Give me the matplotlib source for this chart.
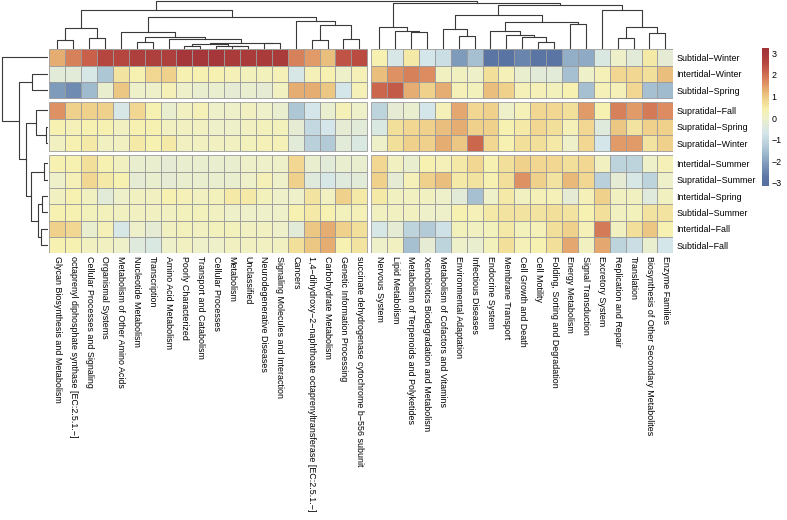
import numpy as np
import matplotlib
matplotlib.use("Agg")
import matplotlib.pyplot as plt
from matplotlib.patches import Rectangle
from matplotlib.colors import LinearSegmentedColormap, Normalize
from matplotlib.cm import ScalarMappable

plt.rcParams['font.family'] = ['Liberation Sans', 'DejaVu Sans']

# --- data (display order, as clustered in the picture) ---
row_labels = ['Subtidal\u2212Winter', 'Intertidal\u2212Winter', 'Subtidal\u2212Spring',
              'Supratidal\u2212Fall', 'Supratidal\u2212Spring', 'Supratidal\u2212Winter',
              'Intertidal\u2212Summer', 'Supratidal\u2212Summer', 'Intertidal\u2212Spring',
              'Subtidal\u2212Summer', 'Intertidal\u2212Fall', 'Subtidal\u2212Fall']

col_labels = ['Glycan Biosynthesis and Metabolism',
              'octaprenyl diphosphate synthase [EC:2.5.1.\u2212]',
              'Cellular Processes and Signaling', 'Organismal Systems',
              'Metabolism of Other Amino Acids', 'Nucleotide Metabolism', 'Transcription',
              'Amino Acid Metabolism', 'Poorly Characterized', 'Transport and Catabolism',
              'Cellular Processes', 'Metabolism', 'Unclassified', 'Neurodegenerative Diseases',
              'Signaling Molecules and Interaction', 'Cancers',
              '1,4\u2212dihydroxy\u22122\u2212naphthoate octaprenyltransferase [EC:2.5.1.\u2212]',
              'Carbohydrate Metabolism', 'Genetic Information Processing',
              'succinate dehydrogenase cytochrome b\u2212556 subunit',
              'Nervous System', 'Lipid Metabolism', 'Metabolism of Terpenoids and Polyketides',
              'Xenobiotics Biodegradation and Metabolism', 'Metabolism of Cofactors and Vitamins',
              'Environmental Adaptation', 'Infectious Diseases', 'Endocrine System',
              'Membrane Transport', 'Cell Growth and Death', 'Cell Motility',
              'Folding, Sorting and Degradation', 'Energy Metabolism', 'Signal Transduction',
              'Excretory System', 'Replication and Repair', 'Translation',
              'Biosynthesis of Other Secondary Metabolites', 'Enzyme Families']

# scaled abundance (z-score), one list per row
values = np.array([
    [1.3, 1.8, 2.2, 2.6, 2.6, 2.8, 2.8, 2.8, 3.0, 3.0, 3.0, 2.9, 2.9, 2.9, 2.9, 1.8, 1.5, 1.1, 2.4, 2.5,
     0.4, -0.6, 0.5, -0.7, -0.9, -2.1, -1.5, -2.8, -2.9, -2.5, -2.8, -2.8, -1.8, -1.9, -0.5, 0.0, -0.3, 0.5, -0.2],
    [-0.3, -0.3, -0.6, -1.4, 0.6, 0.4, 0.8, 0.9, 0.4, 0.4, 0.4, 0.3, 0.2, 0.2, 0.3, -0.6, 0.3, 0.4, 0.0, 0.3,
     1.1, 1.6, 1.8, 1.7, 0.1, 0.1, 0.0, 0.7, 0.3, -0.1, -0.3, -0.3, -1.5, 0.0, 0.3, 0.8, 0.8, 0.7, 1.1],
    [-2.1, -2.4, -1.6, -0.1, 1.0, 0.0, 0.0, 0.3, 0.0, -0.1, -0.1, -0.2, -0.1, -0.2, 0.1, 1.3, 1.3, 1.0, -0.7, 0.3,
     2.1, 2.3, 1.3, 0.9, 1.3, 0.3, 0.2, 1.1, 0.9, 0.3, 0.3, 0.2, 0.4, -1.5, 0.3, 0.3, 0.8, -1.5, -1.6],
    [1.6, 0.9, 0.9, 0.9, -0.6, 0.8, 0.4, -0.1, 0.1, 0.3, 0.0, 0.0, 0.1, 0.0, -0.1, -1.4, -0.7, -0.1, 0.3, 0.0,
     -1.1, -0.2, -0.1, -0.7, 0.3, 1.4, 0.8, 0.9, 0.0, 0.3, 0.8, 0.8, 0.7, 1.5, 0.4, 1.8, 1.5, 1.9, 1.7],
    [0.4, 0.3, 0.4, 0.4, 0.1, 0.4, 0.4, 0.1, 0.1, 0.1, 0.0, 0.0, 0.1, 0.2, 0.2, -0.2, -1.0, -0.7, -0.2, -0.3,
     -0.5, 0.7, 0.8, 0.9, 1.1, 1.3, 0.9, 0.9, 0.4, 0.5, 0.8, 0.7, 0.3, 0.8, -0.4, 1.0, 0.6, 0.9, 0.9],
    [0.1, 0.4, 0.5, 0.1, 0.1, 0.5, 0.4, 0.5, 0.1, 0.1, 0.1, 0.1, 0.2, 0.3, 0.3, -0.3, -1.2, -1.3, -0.3, -0.5,
     0.0, 0.7, 0.9, 0.9, 1.3, 1.0, 2.1, 0.8, 0.4, 0.7, 0.7, 0.5, 0.0, 0.8, -0.7, 1.5, 1.5, 0.6, 0.9],
    [0.4, 0.4, 0.7, 0.4, 0.1, -0.1, -0.1, -0.2, -0.1, -0.1, -0.1, -0.1, 0.0, 0.0, 0.0, 0.8, -0.1, -0.3, -0.1, -0.1,
     0.8, 0.1, -0.1, 0.4, 0.3, 0.5, 0.8, 0.4, 0.7, 0.9, 0.8, 0.8, 0.7, 0.8, 0.1, -1.1, -1.1, 0.0, 0.3],
    [0.0, 0.3, 0.8, 0.5, 0.4, -0.2, -0.1, -0.2, -0.1, -0.1, -0.1, -0.1, 0.0, 0.3, 0.0, 0.9, -0.4, -0.6, -0.4, -0.3,
     0.9, -0.2, 0.3, 0.9, 1.1, 0.5, 0.6, 0.4, 0.7, 1.6, 0.9, 0.6, 1.2, 0.8, -1.2, -0.2, -0.6, -1.1, 0.0],
    [0.1, 0.4, 0.1, -0.3, 0.0, 0.1, 0.1, 0.4, 0.3, 0.1, 0.2, 0.5, 0.5, 0.2, 0.0, 0.0, 0.6, 0.1, 0.9, 0.5,
     0.5, 0.1, 0.1, 0.1, 0.0, -0.3, -1.5, 0.0, 0.5, 0.1, 0.3, 0.3, -0.2, 0.3, 0.9, 0.1, 0.1, -0.4, 0.1],
    [0.4, 0.4, 0.2, 0.2, 0.1, 0.1, 0.1, 0.1, 0.2, 0.2, 0.1, 0.0, 0.0, 0.0, 0.0, 0.4, 0.5, 0.4, 0.2, 0.3,
     0.1, 0.1, 0.1, 0.0, 0.0, 0.4, 0.3, 0.5, 0.6, 0.6, 0.6, 0.7, 0.6, 0.4, 0.7, 0.1, 0.2, 0.6, 0.6],
    [0.9, 0.8, -0.1, 0.3, -0.6, 0.0, -0.2, 0.1, 0.2, 0.1, 0.2, 0.2, 0.1, 0.1, 0.0, -0.3, 1.0, 1.3, 0.9, 0.7,
     -0.6, -0.2, -1.1, -1.3, -0.8, 0.2, 0.1, 0.2, 0.5, 0.2, 0.3, 0.7, 0.9, 0.3, 1.9, 0.1, 0.7, 1.0, 0.4],
    [0.4, 0.4, 0.1, 0.1, 0.0, -0.4, -0.5, 0.0, 0.1, 0.0, 0.0, 0.1, 0.1, 0.1, 0.1, 0.7, 1.0, 1.3, 0.4, 0.6,
     0.0, 0.1, -1.5, -0.2, -1.1, 0.0, -0.1, 0.2, 0.7, 0.3, 0.4, 0.7, 1.4, 0.1, 1.4, -1.1, -0.9, -0.1, -0.7],
])

# dendrograms as (left, right, height); leaves are display indices
col_tree = (
    (((0, 1, 9.3), (2, 3, 11.3), 20.7),
     ((4, ((5, 6, 6.7),
           (7, (((8, 9, 2.7), (10, (11, 12, 2.7), 3.3), 4.7), (13, 14, 5.7), 6.3), 10.0),
           11.7), 16.7),
      (15, ((16, 17, 8.7), (18, 19, 10.0), 24.0), 28.3), 32.0),
     38.7),
    ((20, (21, (22, 23, 16.7), 17.7), 22.3),
     (((24, (25, 26, 13.3), 19.7),
       ((27, (28, (29, (30, 31, 7.0), 12.0), 14.3), 18.3), (32, 33, 25.3), 27.3), 34.0),
      (34, ((35, 36, 10.7), (37, 38, 16.3), 21.7), 38.7), 43.7),
     45.7),
    48.0)

row_tree = (0, ((1, 2, 14.3),
                ((3, (4, 5, 1.7), 10.7),
                 ((6, 7, 3.3), ((8, 9, 5.0), (10, 11, 5.7), 9.0), 16.0), 20.0),
                26.7), 43.3)

col_split = 20          # cutree gap after this many columns
row_splits = [3, 6]     # gaps after these rows
vmin, vmax = -3.15, 3.25

# --- layout (pixels) ---
W, H = 787, 520
hm_left, hm_top, hm_w, hm_h = 49.3, 49.3, 624.0, 204.0
gap_px = 4.0
n_rows, n_cols = values.shape
cw = (hm_w - gap_px) / n_cols
rh = (hm_h - gap_px * len(row_splits)) / n_rows
gc, gr = gap_px / cw, gap_px / rh

cmap = LinearSegmentedColormap.from_list('heat', [
    (0.0, '#56709F'), ((-2.8 - vmin) / (vmax - vmin), '#5A74A3'),
    ((-2.2 - vmin) / (vmax - vmin), '#7A96B8'), ((-1.8 - vmin) / (vmax - vmin), '#94B0C8'),
    ((-1.3 - vmin) / (vmax - vmin), '#B4CCD8'), ((-0.7 - vmin) / (vmax - vmin), '#D4E6EA'),
    ((-0.3 - vmin) / (vmax - vmin), '#E2EBD8'), ((0.0 - vmin) / (vmax - vmin), '#EEF0C8'),
    ((0.4 - vmin) / (vmax - vmin), '#F6F0B0'), ((0.8 - vmin) / (vmax - vmin), '#F1D892'),
    ((1.2 - vmin) / (vmax - vmin), '#E8B878'), ((1.7 - vmin) / (vmax - vmin), '#DC8B60'),
    ((2.2 - vmin) / (vmax - vmin), '#C8604A'), ((2.6 - vmin) / (vmax - vmin), '#B5463F'),
    ((3.0 - vmin) / (vmax - vmin), '#A5373A'), (1.0, '#A23538')])
norm = Normalize(vmin=vmin, vmax=vmax)


def px_axes(fig, left, top, width, height):
    return fig.add_axes([left / W, 1 - (top + height) / H, width / W, height / H])


col_pos = [i + 0.5 + (gc if i >= col_split else 0) for i in range(n_cols)]
row_pos = [r + 0.5 + gr * sum(r >= s for s in row_splits) for r in range(n_rows)]

fig = plt.figure(figsize=(W / 100, H / 100), dpi=100)

# heatmap
ax = px_axes(fig, hm_left, hm_top, hm_w, hm_h)
for r in range(n_rows):
    for c in range(n_cols):
        ax.add_patch(Rectangle((col_pos[c] - 0.5, row_pos[r] - 0.5), 1, 1,
                               facecolor=cmap(norm(values[r, c])), edgecolor='#9a9a9a', lw=0.6))
ax.set_xlim(0, n_cols + gc)
ax.set_ylim(n_rows + gr * len(row_splits), 0)
for s in ax.spines.values():
    s.set_visible(False)
ax.set_xticks(col_pos)
ax.set_xticklabels(col_labels, rotation=270, ha='center', va='top', fontsize=6.4)
ax.yaxis.tick_right()
ax.set_yticks(row_pos)
ax.set_yticklabels(row_labels, fontsize=6.4)
ax.tick_params(length=0, pad=2.2)


def draw_tree(axis, node, pos, top):
    if isinstance(node, int):
        return pos[node], 0.0
    left, right, h = node
    xl, hl = draw_tree(axis, left, pos, top)
    xr, hr = draw_tree(axis, right, pos, top)
    if top:
        axis.plot([xl, xl, xr, xr], [hl, h, h, hr], color='#3a3a3a', lw=0.8)
    else:
        axis.plot([hl, h, h, hr], [xl, xl, xr, xr], color='#3a3a3a', lw=0.8)
    return (xl + xr) / 2, h


# column dendrogram
axc = px_axes(fig, hm_left, 0, hm_w, hm_top - 0.3)
draw_tree(axc, col_tree, col_pos, True)
axc.set_xlim(0, n_cols + gc)
axc.set_ylim(0, 49.0)
axc.axis('off')

# row dendrogram
axr = px_axes(fig, 0, hm_top, 47.5, hm_h)
draw_tree(axr, row_tree, row_pos, False)
axr.set_xlim(45.0, 0)
axr.set_ylim(n_rows + gr * len(row_splits), 0)
axr.axis('off')

# colour key
cax = px_axes(fig, 762, 48, 7, 138)
cb = fig.colorbar(ScalarMappable(norm=norm, cmap=cmap), cax=cax)
cb.outline.set_visible(False)
cb.set_ticks([3, 2, 1, 0, -1, -2, -3])
cb.ax.tick_params(length=0, pad=2, labelsize=6.4)

fig.savefig('out.png', dpi=100)
